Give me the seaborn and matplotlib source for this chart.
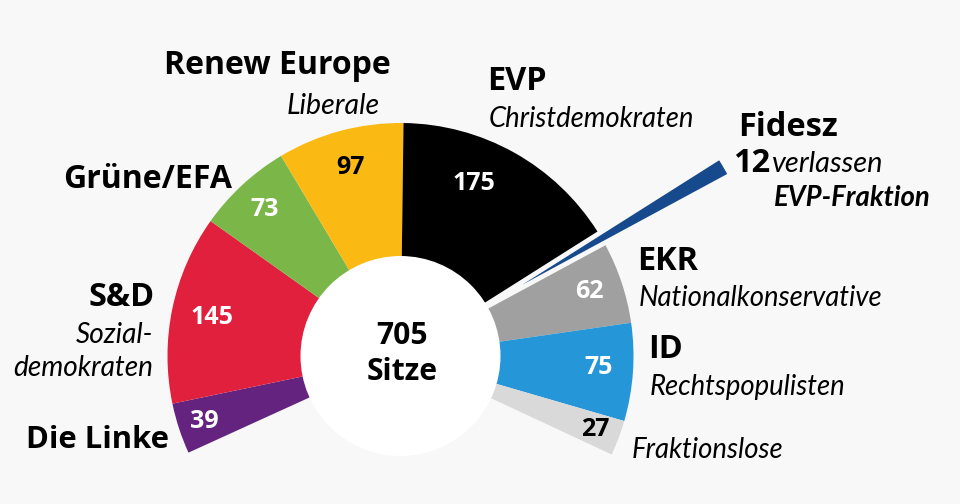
import matplotlib.pyplot as plt
import seaborn as sns

groups = ['Die Linke', 'S&D', 'Grüne/EFA', 'Renew Europe', 'EVP', 'Fidesz', 'EKR', 'ID', 'Fraktionslose']
seats = [39, 145, 73, 97, 175, 12, 62, 75, 27]
colors = ['#63237f', '#e0203d', '#7ab648', '#fbb914', '#000000', '#174a8c', '#a0a0a0', '#2596d8', '#d9d9d9']
value_colors = ['white', 'white', 'white', 'black', 'white', 'black', 'white', 'white', 'black']
total_label = '705\nSitze'

BG = '#f8f8f8'
CX, CY = 400.5, 148  # centre of the half circle, y measured from the bottom
R_OUT, R_IN = 233, 100
SPAN = 229.5  # degrees covered by all seats
START = 204.5
FIDESZ_SHIFT = 141


def main():
    sns.set_theme(style='white')
    plt.rcParams['font.family'] = ['Open Sans', 'DejaVu Sans']

    fig = plt.figure(figsize=(9.6, 5.04), dpi=100, facecolor=BG)
    ax = fig.add_axes([0, 0, 1, 1])

    # the part of the circle that stays empty, as a transparent slice
    empty = sum(seats) * (360 / SPAN - 1)
    explode = [FIDESZ_SHIFT if g == 'Fidesz' else 0 for g in groups] + [0]
    wedges, _ = ax.pie(seats + [empty], colors=colors + ['none'], startangle=START, counterclock=False,
                       radius=R_OUT, center=(CX, CY), explode=explode, frame=True,
                       wedgeprops={'linewidth': 0})
    wedges[groups.index('Fidesz')].set_zorder(3)

    # white disc in the middle
    ax.add_patch(plt.Circle((CX, CY), R_IN, color='white', lw=0, zorder=4))

    ax.set_xlim(0, 960)
    ax.set_ylim(0, 504)
    ax.set_aspect('equal')
    ax.axis('off')

    def put(x, y, s, size, weight='normal', style='normal', ha='left', color='black', family=None, **kw):
        ax.text(x, 504 - y, s, fontsize=size * 0.72, fontweight=weight, fontstyle=style, ha=ha, va='center',
                color=color, zorder=5, family=family or ['Open Sans', 'DejaVu Sans'], **kw)

    # seat numbers inside the segments
    value_pos = [(204, 421), (212, 318), (265, 210), (350, 168), (474, 184), None, (589, 291), (599, 368), (595, 430)]
    for n, pos, c in zip(seats, value_pos, value_colors):
        if pos:
            put(pos[0], pos[1], str(n), 25, weight='bold', ha='center', color=c)

    ax.text(402, 504 - 354, total_label, fontsize=30 * 0.72, fontweight='bold', ha='center', va='center',
            linespacing=1.25, color='black', zorder=5, family=['Open Sans', 'DejaVu Sans'])

    # group names
    bold = 32.5
    put(391, 66, 'Renew Europe', 32, weight='bold', ha='right')
    put(232, 179, 'Grüne/EFA', 32, weight='bold', ha='right')
    put(155, 297, 'S&D', bold, weight='bold', ha='right')
    put(169, 440, 'Die Linke', 31, weight='bold', ha='right')
    put(487, 82, 'EVP', bold, weight='bold')
    put(637, 262, 'EKR', bold, weight='bold')
    put(648, 350, 'ID', bold, weight='bold')
    put(738, 128, 'Fidesz', bold, weight='bold')
    put(733, 164, '12', bold, weight='bold')

    # descriptions
    ital = 27.5
    lato = ['Lato', 'DejaVu Sans']
    put(380, 106, 'Liberale', 28.5, style='italic', ha='right', family=lato)
    put(489, 119, 'Christdemokraten', ital, style='italic', family=lato)
    put(639, 298, 'Nationalkonservative', ital, style='italic', family=lato)
    put(650, 387, 'Rechtspopulisten', ital, style='italic', family=lato)
    put(632, 450, 'Fraktionslose', ital, style='italic', family=lato)
    put(153, 335, 'Sozial-', 28, style='italic', ha='right', family=lato)
    put(153, 368, 'demokraten', 28, style='italic', ha='right', family=lato)
    put(772, 164, 'verlassen', 29, style='italic', family=lato)
    put(774, 198, 'EVP-Fraktion', ital, style='italic', weight='bold', family=lato)

    fig.savefig('out.png', dpi=100, facecolor=BG)
    plt.close(fig)


if __name__ == "__main__":
    main()
